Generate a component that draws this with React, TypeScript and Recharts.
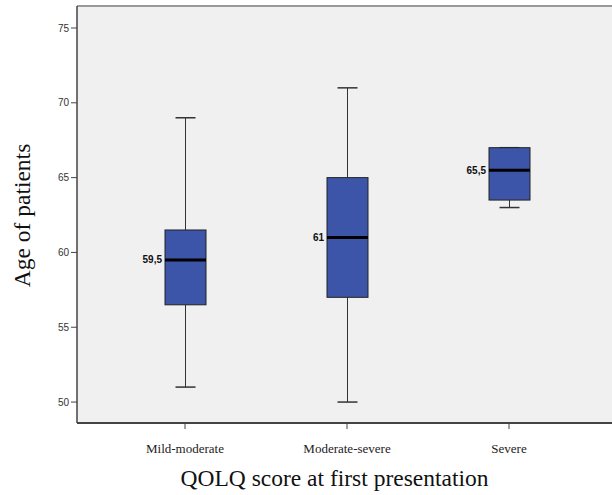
import { ComposedChart, Bar, XAxis, YAxis, CartesianGrid, ReferenceLine, Label } from "recharts";

const categories = ["Mild-moderate", "Moderate-severe", "Severe"];
const minValues = [51, 50, 63];
const q1Values = [56.5, 57, 63.5];
const medianValues = [59.5, 61, 65.5];
const q3Values = [61.5, 65, 67];
const maxValues = [69, 71, 67];
const yTicks = [50, 55, 60, 65, 70, 75];

const Y_MIN = 48.6;
const Y_MAX = 76.47;

const data = categories.map((name, i) => ({
  name,
  range: [minValues[i], maxValues[i]],
  min: minValues[i],
  q1: q1Values[i],
  median: medianValues[i],
  q3: q3Values[i],
  max: maxValues[i],
}));

const serif = '"Liberation Serif", "Times New Roman", serif';
const sans = '"Liberation Sans", Arial, sans-serif';

function BoxShape(props: any) {
  const { x, y, width, height, payload } = props;
  const top = Math.min(y, y + height);
  const h = Math.abs(height);
  const { min, max, q1, q3, median } = payload;
  // range bar spans min..max, so map other values linearly inside it
  const yOf = (v: number) => (max === min ? top : top + ((max - v) / (max - min)) * h);
  const cx = x + width / 2;
  const capHalf = 10;
  const yMax = yOf(max);
  const yMin = yOf(min);
  const yQ1 = yOf(q1);
  const yQ3 = yOf(q3);
  const yMed = yOf(median);
  return (
    <g>
      <line x1={cx} x2={cx} y1={yMax} y2={yQ3} stroke="#333" strokeWidth={1} />
      <line x1={cx} x2={cx} y1={yQ1} y2={yMin} stroke="#333" strokeWidth={1} />
      <line x1={cx - capHalf} x2={cx + capHalf} y1={yMax} y2={yMax} stroke="#333" strokeWidth={1.5} />
      <line x1={cx - capHalf} x2={cx + capHalf} y1={yMin} y2={yMin} stroke="#333" strokeWidth={1.5} />
      <rect x={x} y={yQ3} width={width} height={yQ1 - yQ3} fill="#3D55A8" stroke="#222" strokeWidth={1} />
      <line x1={x} x2={x + width} y1={yMed} y2={yMed} stroke="#000" strokeWidth={3} />
      <text
        x={x - 3}
        y={yMed}
        textAnchor="end"
        dominantBaseline="central"
        fontFamily={sans}
        fontWeight="bold"
        fontSize={10}
        fill="#111"
      >
        {String(median).replace(".", ",")}
      </text>
    </g>
  );
}

export default function App() {
  return (
    <div style={{ position: "absolute", left: 0, top: 0, width: 612, height: 495, background: "#fff" }}>
      <ComposedChart
        width={612}
        height={495}
        data={data}
        margin={{ top: 6, right: 0, bottom: 0, left: 0 }}
      >
        <CartesianGrid fill="#F0F0F0" horizontal={false} vertical={false} />
        <XAxis
          dataKey="name"
          height={72}
          padding={{ left: 27, right: 22 }}
          axisLine={{ stroke: "#444", strokeWidth: 2 }}
          tickLine={{ stroke: "#444" }}
          tickSize={6}
          tickMargin={15}
          tick={{ fontFamily: serif, fontSize: 13, fill: "#222" }}
        >
          <Label
            content={({ viewBox }: any) => (
              <text
                x={viewBox.x + viewBox.width / 2 - 10}
                y={viewBox.y + 63}
                textAnchor="middle"
                fontFamily={serif}
                fontSize={23.5}
                fill="#111"
              >
                QOLQ score at first presentation
              </text>
            )}
          />
        </XAxis>
        <YAxis
          type="number"
          domain={[Y_MIN, Y_MAX]}
          ticks={yTicks}
          width={77}
          axisLine={{ stroke: "#444", strokeWidth: 1.5 }}
          tickLine={{ stroke: "#444" }}
          tickSize={6}
          tickMargin={2}
          tick={{ fontFamily: sans, fontSize: 10, fill: "#333" }}
        >
          <Label
            content={({ viewBox }: any) => {
              const lx = viewBox.x + 22;
              const ly = viewBox.y + viewBox.height / 2 + 1;
              return (
                <text
                  x={lx}
                  y={ly}
                  transform={`rotate(-90 ${lx} ${ly})`}
                  textAnchor="middle"
                  dominantBaseline="central"
                  fontFamily={serif}
                  fontSize={23.5}
                  fill="#111"
                >
                  Age of patients
                </text>
              );
            }}
          />
        </YAxis>
        <ReferenceLine y={Y_MAX} stroke="#999" strokeWidth={2} />
        <Bar dataKey="range" barSize={41} shape={<BoxShape />} isAnimationActive={false} />
      </ComposedChart>
    </div>
  );
}
